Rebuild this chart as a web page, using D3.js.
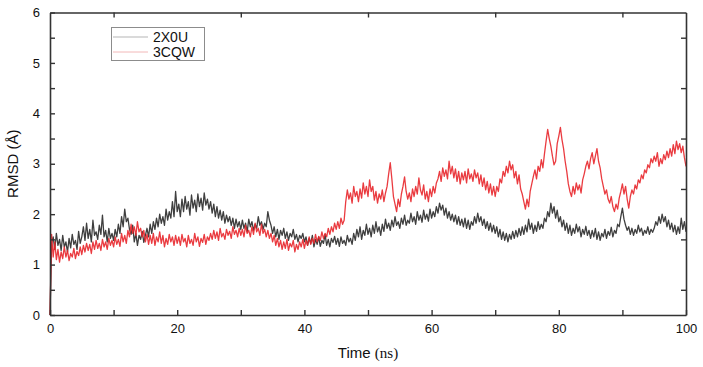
<!DOCTYPE html>
<html><head><meta charset="utf-8">
<script src="https://cdn.jsdelivr.net/npm/d3@7"></script>
<style>body{margin:0;background:#fff}svg{display:block}text{font-family:"Liberation Sans",Arial,sans-serif}</style>
</head><body>
<script>
const seriesNames = ["2X0U", "3CQW"];
const timeStep = 0.25;
const rmsd2X0U = [
0,1.42,1.55,1.30,1.62,1.38,1.50,1.28,1.58,1.35,1.45,1.25,1.52,1.33,1.60,1.40,1.48,1.30,1.66,1.42,
1.55,1.75,1.48,1.82,1.52,1.70,1.45,1.88,1.58,1.65,1.50,1.78,1.60,1.98,1.55,1.68,1.45,1.72,1.52,1.62,
1.48,1.70,1.55,1.80,1.62,1.95,1.75,2.10,1.85,1.92,1.70,1.60,1.78,1.45,1.62,1.38,1.58,1.50,1.66,1.44,
1.58,1.72,1.55,1.80,1.62,1.85,1.70,1.92,1.75,2.00,1.82,1.95,1.78,2.10,1.88,2.05,1.92,2.25,1.95,2.45,
2.05,2.20,1.95,2.30,2.05,2.35,2.10,2.25,1.98,2.38,2.12,2.28,2.05,2.40,2.15,2.32,2.08,2.42,2.18,2.30,
2.10,2.25,2.02,2.20,1.95,2.15,1.92,2.08,1.88,2.05,1.82,1.98,1.85,1.95,1.78,1.92,1.72,1.90,1.75,1.85,
1.70,1.88,1.72,1.82,1.65,1.90,1.75,1.85,1.68,1.80,1.72,1.95,1.78,1.85,1.70,1.82,1.75,2.05,1.88,1.78,
1.62,1.75,1.55,1.70,1.50,1.68,1.58,1.72,1.52,1.65,1.48,1.62,1.55,1.70,1.50,1.60,1.45,1.58,1.52,1.62,
1.45,1.55,1.38,1.52,1.42,1.58,1.35,1.50,1.40,1.55,1.36,1.48,1.42,1.60,1.38,1.50,1.35,1.52,1.44,1.56,
1.40,1.52,1.36,1.55,1.42,1.48,1.38,1.58,1.45,1.52,1.40,1.62,1.48,1.70,1.55,1.75,1.50,1.68,1.58,1.80,
1.60,1.72,1.55,1.78,1.62,1.85,1.65,1.75,1.58,1.80,1.66,1.90,1.72,1.82,1.68,1.88,1.75,1.95,1.78,1.85,
1.72,1.92,1.80,1.98,1.78,1.88,1.82,2.02,1.85,1.95,1.80,2.05,1.88,1.98,1.84,2.08,1.90,2.00,1.86,2.10,
1.92,2.05,1.95,2.15,2.02,2.22,2.08,2.18,1.98,2.12,1.92,2.05,1.88,2.00,1.85,1.98,1.80,1.95,1.78,1.90,
1.75,1.92,1.72,1.88,1.70,1.85,1.78,1.95,1.82,2.02,1.85,1.95,1.78,1.90,1.72,1.85,1.68,1.82,1.65,1.78,
1.62,1.75,1.55,1.70,1.50,1.65,1.48,1.62,1.45,1.60,1.50,1.66,1.52,1.68,1.55,1.72,1.58,1.75,1.60,1.78,
1.65,1.90,1.70,1.82,1.62,1.78,1.66,1.85,1.70,1.80,1.72,1.92,1.85,2.05,1.95,2.22,2.02,2.15,1.92,2.08,
1.85,1.95,1.75,1.88,1.68,1.82,1.62,1.78,1.58,1.72,1.62,1.80,1.65,1.75,1.55,1.70,1.60,1.76,1.58,1.68,
1.52,1.68,1.55,1.72,1.50,1.65,1.48,1.62,1.55,1.70,1.52,1.66,1.58,1.74,1.55,1.68,1.62,1.80,1.75,1.95,
2.12,1.90,1.78,1.68,1.75,1.60,1.72,1.58,1.70,1.62,1.78,1.65,1.72,1.58,1.68,1.62,1.75,1.60,1.70,1.64,
1.72,1.85,1.78,1.95,1.82,2.00,1.85,1.95,1.75,1.88,1.70,1.82,1.65,1.78,1.60,1.75,1.62,1.92,1.70,1.85,
1.65];
const rmsd3CQW = [
0,1.60,1.15,1.45,1.10,1.30,1.05,1.25,1.12,1.35,1.15,1.28,1.08,1.22,1.15,1.32,1.12,1.26,1.18,1.35,
1.20,1.38,1.25,1.42,1.28,1.40,1.22,1.45,1.30,1.48,1.32,1.42,1.28,1.50,1.35,1.45,1.30,1.52,1.38,1.48,
1.35,1.55,1.40,1.50,1.36,1.62,1.45,1.58,1.42,1.68,1.55,1.80,1.62,1.75,1.58,1.85,1.65,1.72,1.55,1.68,
1.45,1.60,1.40,1.58,1.42,1.62,1.38,1.55,1.45,1.65,1.42,1.58,1.35,1.52,1.40,1.60,1.45,1.55,1.38,1.58,
1.42,1.55,1.38,1.60,1.45,1.52,1.35,1.58,1.42,1.50,1.38,1.62,1.45,1.55,1.36,1.52,1.44,1.60,1.40,1.55,
1.48,1.62,1.50,1.68,1.52,1.65,1.48,1.72,1.55,1.62,1.50,1.70,1.58,1.66,1.52,1.75,1.60,1.68,1.55,1.72,
1.58,1.70,1.55,1.78,1.62,1.68,1.55,1.75,1.60,1.82,1.65,1.72,1.58,1.80,1.62,1.70,1.55,1.68,1.52,1.62,
1.45,1.58,1.38,1.52,1.35,1.48,1.30,1.45,1.32,1.50,1.28,1.42,1.35,1.48,1.25,1.40,1.30,1.45,1.35,1.50,
1.32,1.48,1.38,1.55,1.40,1.52,1.42,1.60,1.45,1.56,1.48,1.65,1.52,1.62,1.55,1.72,1.60,1.75,1.65,1.82,
1.70,1.85,1.72,1.92,1.80,1.88,2.25,2.48,2.30,2.42,2.22,2.55,2.35,2.45,2.25,2.50,2.32,2.62,2.40,2.55,
2.35,2.68,2.45,2.55,2.28,2.45,2.22,2.40,2.30,2.48,2.25,2.42,2.55,2.80,3.02,2.70,2.35,2.20,2.05,2.30,
2.15,2.40,2.55,2.74,2.45,2.30,2.42,2.25,2.50,2.35,2.55,2.40,2.72,2.48,2.38,2.58,2.30,2.45,2.25,2.50,
2.35,2.55,2.42,2.62,2.70,2.85,2.65,2.92,2.75,2.88,2.70,3.05,2.80,2.95,2.72,2.90,2.65,2.85,2.60,2.82,
2.68,2.85,2.62,2.90,2.70,2.80,2.65,2.88,2.72,2.82,2.60,2.78,2.55,2.72,2.48,2.65,2.42,2.60,2.38,2.55,
2.35,2.55,2.45,2.70,2.62,2.85,2.75,2.95,2.82,3.05,2.88,2.98,2.72,2.85,2.60,2.78,2.50,2.40,2.25,2.10,
2.30,2.15,2.45,2.60,2.75,2.88,2.70,2.95,2.85,3.08,2.92,3.20,3.45,3.68,3.50,3.35,3.15,2.98,3.05,3.40,
3.55,3.72,3.48,3.30,3.05,2.85,2.60,2.45,2.35,2.55,2.40,2.62,2.48,2.58,2.42,2.68,2.80,2.95,3.05,2.90,
3.10,3.22,3.00,3.15,3.30,3.05,2.92,2.70,2.55,2.40,2.48,2.30,2.22,2.35,2.15,2.05,2.20,2.10,2.32,2.45,
2.60,2.40,2.55,2.30,2.12,2.35,2.48,2.40,2.58,2.50,2.68,2.62,2.78,2.70,2.88,2.82,2.98,2.92,3.10,3.02,
3.15,3.05,3.22,2.95,3.10,3.00,3.18,3.08,3.25,3.12,3.30,3.15,3.38,3.20,3.45,3.28,3.40,3.22,3.35,3.12,
2.95];
const xMajorTicks = [0, 20, 40, 60, 80, 100];
const xMinorTicks = [10, 30, 50, 70, 90];
const yMajorTicks = [0, 1, 2, 3, 4, 5, 6];
const yMinorTicks = [0.5, 1.5, 2.5, 3.5, 4.5, 5.5];

const W = 703, H = 367;
const svg = d3.select("body").append("svg").attr("width", W).attr("height", H);
const x = d3.scaleLinear().domain([0, 100]).range([50, 686]);
const y = d3.scaleLinear().domain([0, 6]).range([315, 12.5]);

const colors = {"2X0U": "#2a2a2a", "3CQW": "#e8262b"};
const series = [
  {name: "2X0U", values: rmsd2X0U},
  {name: "3CQW", values: rmsd3CQW}
];
const line = d3.line().x((d, i) => x(i * timeStep)).y(d => y(d));
svg.append("g").selectAll("path").data(series).join("path")
  .attr("d", s => line(s.values))
  .attr("fill", "none")
  .attr("stroke", s => colors[s.name])
  .attr("stroke-width", 1.3)
  .attr("stroke-opacity", 0.9)
  .attr("stroke-linejoin", "round");

const axisColor = "#333";
const tl = 5;
const fmt = d3.format("d");
// bottom axis
svg.append("g").attr("transform", `translate(0,${y(0)})`)
  .call(d3.axisBottom(x).tickValues(xMajorTicks).tickFormat(fmt).tickSizeInner(-tl).tickSizeOuter(0).tickPadding(tl + 4));
svg.append("g").attr("transform", `translate(0,${y(0)})`)
  .call(d3.axisBottom(x).tickValues(xMinorTicks).tickSizeInner(-tl).tickSizeOuter(0).tickFormat(""))
  .select(".domain").remove();
// left axis
svg.append("g").attr("transform", `translate(${x(0)},0)`)
  .call(d3.axisLeft(y).tickValues(yMajorTicks).tickFormat(fmt).tickSizeInner(-tl).tickSizeOuter(0).tickPadding(tl + 5));
svg.append("g").attr("transform", `translate(${x(0)},0)`)
  .call(d3.axisLeft(y).tickValues(yMinorTicks).tickSizeInner(-tl).tickSizeOuter(0).tickFormat(""))
  .select(".domain").remove();
// top axis
svg.append("g").attr("transform", `translate(0,${y(6)})`)
  .call(d3.axisTop(x).tickValues(xMinorTicks).tickSizeInner(-tl).tickSizeOuter(0).tickFormat(""));
// right axis
svg.append("g").attr("transform", `translate(${x(100)},0)`)
  .call(d3.axisRight(y).tickValues(yMinorTicks).tickSizeInner(-tl).tickSizeOuter(0).tickFormat(""));

svg.selectAll(".domain").attr("stroke", axisColor).attr("stroke-width", 1.6);
svg.selectAll(".tick line").attr("stroke", axisColor).attr("stroke-width", 1.4);
svg.selectAll(".tick text").attr("fill", "#111").style("font-size", "13px").style("font-family", "'Liberation Sans',Arial,sans-serif");

// axis titles
svg.append("text").attr("transform", `translate(18,${(y(0)+y(6))/2}) rotate(-90)`)
  .attr("text-anchor", "middle").style("font-size", "15px").attr("fill", "#111").text("RMSD (Å)");
const xt = svg.append("text").attr("x", (x(0)+x(100))/2).attr("y", 358)
  .attr("text-anchor", "middle").attr("fill", "#111").style("font-size", "15px");
xt.append("tspan").text("Time ");
xt.append("tspan").style("font-family", "'Liberation Serif','Times New Roman',serif").style("font-size", "15px").text("(ns)");

// legend
const lg = svg.append("g");
lg.append("rect").attr("x", 111.5).attr("y", 27.5).attr("width", 93).attr("height", 33)
  .attr("fill", "#fff").attr("stroke", "#8c8c8c").attr("stroke-width", 1);
const legendLine = {"2X0U": "#b5b5b5", "3CQW": "#f2b8b8"};
seriesNames.forEach((n, i) => {
  const yy = 37 + i * 15;
  lg.append("line").attr("x1", 113).attr("x2", 148).attr("y1", yy).attr("y2", yy)
    .attr("stroke", legendLine[n]).attr("stroke-width", 1);
  lg.append("text").attr("x", 153).attr("y", yy + 5).style("font-size", "14px").attr("fill", "#111").text(n);
});
</script>
</body></html>
